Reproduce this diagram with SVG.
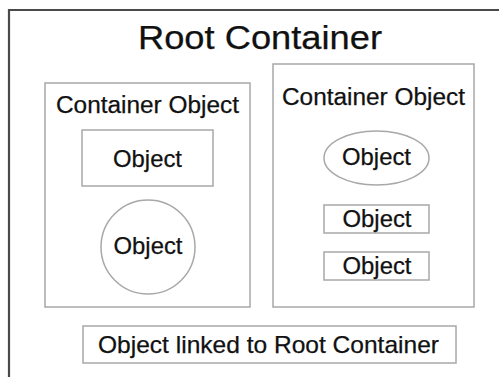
<svg xmlns="http://www.w3.org/2000/svg" width="499" height="377" viewBox="0 0 499 377">
<style>
.box{fill:#fff;stroke:#a8a8a8;stroke-width:1.5}
.t{font-family:"Liberation Sans",Arial,sans-serif;fill:#111;text-anchor:middle;stroke:#111;stroke-width:0.25}
</style>
<rect width="499" height="377" fill="#fff"/>
<g id="root">
<path d="M9 377 V10 H499" fill="none" stroke="#4a4a4a" stroke-width="2.2"/>
<text class="t" x="260" y="49" font-size="33" textLength="244" lengthAdjust="spacingAndGlyphs">Root Container</text>
</g>
<g id="container-left">
<rect class="box" x="45" y="83" width="205" height="224"/>
<text class="t" x="147.5" y="113" font-size="23" textLength="183" lengthAdjust="spacingAndGlyphs">Container Object</text>
</g>
<g id="object-rect">
<rect class="box" x="82" y="130" width="131" height="56"/>
<text class="t" x="147.5" y="167" font-size="24" textLength="69" lengthAdjust="spacingAndGlyphs">Object</text>
</g>
<g id="object-circle">
<circle class="box" cx="148" cy="247" r="47"/>
<text class="t" x="148" y="254" font-size="24" textLength="69" lengthAdjust="spacingAndGlyphs">Object</text>
</g>
<g id="container-right">
<rect class="box" x="273" y="64" width="201" height="243"/>
<text class="t" x="373.5" y="105" font-size="23" textLength="183" lengthAdjust="spacingAndGlyphs">Container Object</text>
</g>
<g id="object-ellipse">
<ellipse class="box" cx="376.5" cy="158" rx="52.5" ry="27"/>
<text class="t" x="376.5" y="165" font-size="24" textLength="69" lengthAdjust="spacingAndGlyphs">Object</text>
</g>
<g id="object-small-1">
<rect class="box" x="324" y="205" width="105" height="28"/>
<text class="t" x="377" y="227" font-size="23" textLength="69" lengthAdjust="spacingAndGlyphs">Object</text>
</g>
<g id="object-small-2">
<rect class="box" x="324" y="252" width="105" height="28"/>
<text class="t" x="377" y="274" font-size="23" textLength="69" lengthAdjust="spacingAndGlyphs">Object</text>
</g>
<g id="object-linked">
<rect class="box" x="83" y="326" width="373" height="37"/>
<text class="t" x="268.5" y="353" font-size="24" textLength="341" lengthAdjust="spacingAndGlyphs">Object linked to Root Container</text>
</g>
<g id="connectors"></g>
</svg>
